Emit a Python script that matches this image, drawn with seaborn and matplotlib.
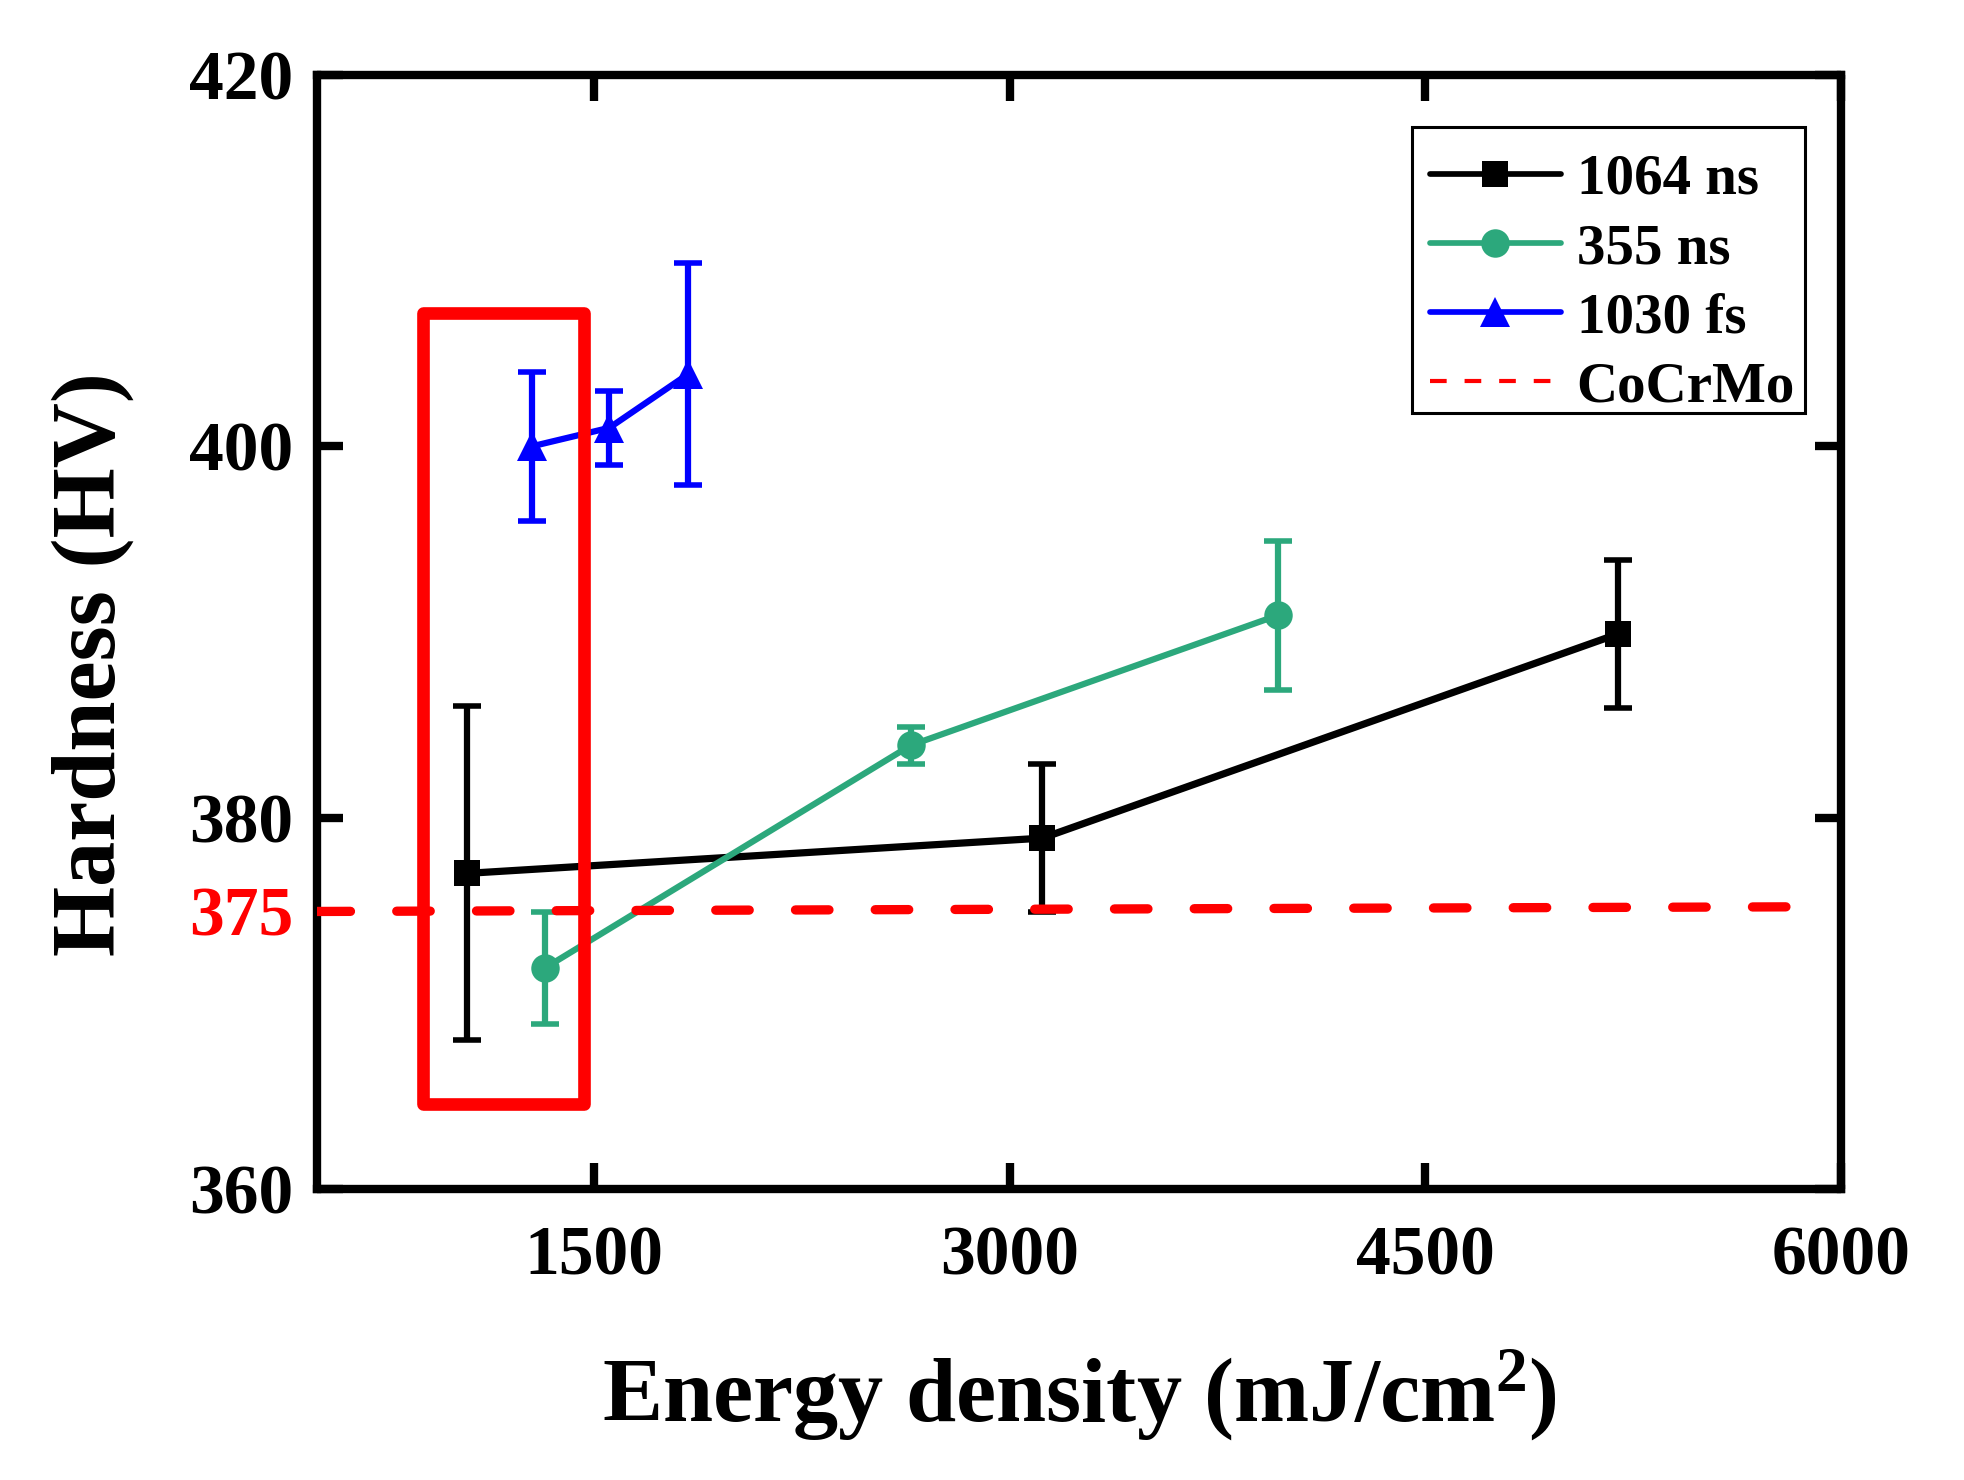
import numpy as np
import pandas as pd
import matplotlib
matplotlib.use('Agg')
import matplotlib.pyplot as plt
import seaborn as sns
from matplotlib.patches import Rectangle
from matplotlib.lines import Line2D

# ---------------- data ----------------
series_names = ['1064 ns', '355 ns', '1030 fs']
x_1064 = [1040, 3118, 5195]
y_1064 = [377.0, 378.9, 389.9]
e_1064 = [9.0, 4.0, 4.0]
x_355 = [1322, 2643, 3967]
y_355 = [371.9, 383.9, 390.9]
e_355 = [3.0, 1.0, 4.0]
x_1030 = [1275, 1555, 1840]
y_1030 = [400.0, 401.0, 403.9]
e_1030 = [4.0, 2.0, 6.0]
cocrmo_label = 'CoCrMo'
cocrmo_x = [500, 5840]
cocrmo_y = [374.95, 375.2]
x_ticks = [1500, 3000, 4500, 6000]
y_ticks = [360, 375, 380, 400, 420]
y_tick_labels = ['360', '375', '380', '400', '420']
highlight_x = [884, 1465]
highlight_y = [364.6, 407.2]

# ---------------- style ----------------
sns.set_style('ticks')
plt.rcParams['font.family'] = ['Liberation Serif', 'DejaVu Serif']
plt.rcParams['font.weight'] = 'bold'
plt.rcParams['text.color'] = 'black'
plt.rcParams['axes.labelcolor'] = 'black'
plt.rcParams['xtick.color'] = 'black'
plt.rcParams['ytick.color'] = 'black'
plt.rcParams['mathtext.fontset'] = 'custom'
plt.rcParams['mathtext.rm'] = 'Liberation Serif:bold'
plt.rcParams['mathtext.it'] = 'Liberation Serif:bold'
plt.rcParams['mathtext.bf'] = 'Liberation Serif:bold'

colors = {'1064 ns': '#000000', '355 ns': '#2ca87c', '1030 fs': '#0000ff'}
markers = {'1064 ns': 's', '355 ns': 'o', '1030 fs': '^'}
msizes = {'1064 ns': 19, '355 ns': 20.5, '1030 fs': 22}
lwidths = {'1064 ns': 5.2, '355 ns': 4.5, '1030 fs': 4.5}

frames = []
for name, xs, ys, es in [('1064 ns', x_1064, y_1064, e_1064),
                         ('355 ns', x_355, y_355, e_355),
                         ('1030 fs', x_1030, y_1030, e_1030)]:
    frames.append(pd.DataFrame({'x': xs, 'y': ys, 'err': es, 'series': name}))
df = pd.concat(frames, ignore_index=True)

fig = plt.figure(figsize=(19.64, 14.80), dpi=100)
ax = fig.add_axes([0.1614, 0.1966, 0.7760, 0.7527])

for name in series_names:
    sub = df[df['series'] == name]
    ax.errorbar(sub['x'], sub['y'], yerr=sub['err'], fmt='none',
                ecolor=colors[name], elinewidth=4.5, capsize=10, capthick=4.0,
                zorder=2)
    n_before = len(ax.lines)
    sns.lineplot(data=sub, x='x', y='y', ax=ax, color=colors[name],
                 marker=markers[name], markersize=msizes[name],
                 markeredgewidth=0, linewidth=lwidths[name], zorder=3,
                 legend=False, sort=False)
    for ln in ax.lines[n_before:]:
        ln.set_linewidth(lwidths[name])
        ln.set_markeredgewidth(0)
        ln.set_markersize(msizes[name])

ax.plot(cocrmo_x, cocrmo_y, color='#ff0000', lw=6.7,
        linestyle=(0, (3.6, 4.97)), dash_capstyle='round', zorder=4)

rect = Rectangle((highlight_x[0], highlight_y[0]),
                 highlight_x[1] - highlight_x[0], highlight_y[1] - highlight_y[0],
                 fill=False, edgecolor='#ff0000', linewidth=9.1,
                 joinstyle='round', zorder=5)
ax.add_patch(rect)

ax.set_xlim(500, 6000)
ax.set_ylim(360, 420)
ax.set_xticks(x_ticks)
ax.set_xticklabels([str(t) for t in x_ticks])
ax.set_yticks(y_ticks)
ax.set_yticklabels(y_tick_labels)

for s in ax.spines.values():
    s.set_linewidth(6)
    s.set_color('black')

ax.tick_params(axis='both', direction='in', length=19, width=6,
               top=True, right=True, labelsize=50, colors='black')
ax.tick_params(axis='y', pad=17)
ax.tick_params(axis='x', pad=26)

for tick in ax.yaxis.get_major_ticks():
    if abs(tick.get_loc() - 375) < 1e-6:
        tick.tick1line.set_visible(False)
        tick.tick2line.set_visible(False)
        tick.label1.set_color('#ff0000')

for lab in ax.get_xticklabels() + ax.get_yticklabels():
    lab.set_fontweight('bold')

ax.set_xlabel(r'Energy density (mJ/cm$^{2}$)', fontsize=65, fontweight='bold',
              labelpad=42, color='black')
ax.set_ylabel('Hardness (HV)', fontsize=65, fontweight='bold', color='black')
ax.yaxis.set_label_coords(-0.120, 0.471)

handles = [Line2D([], [], color=colors[n], marker=markers[n], markersize=msizes[n],
                  markeredgewidth=0, lw=4.1, solid_capstyle='round') for n in series_names]
handles.append(Line2D([], [], color='#ff0000', lw=3.0, linestyle=(0, (4.0, 4.3))))
leg = ax.legend(handles, series_names + [cocrmo_label],
                loc='upper right', bbox_to_anchor=(0.981, 0.9445),
                prop={'family': 'Liberation Serif', 'weight': 'bold', 'size': 41},
                frameon=False,
                handlelength=2.3, handletextpad=0.28, labelspacing=0.30,
                borderpad=0.30, borderaxespad=0.0)
for t in leg.get_texts():
    t.set_color('black')
leg.set_zorder(6)

# legend frame (drawn separately so the padding can be uneven, as in the original)
legend_frame = Rectangle((0.7189, 0.7207), 0.2001, 0.1938, transform=fig.transFigure,
                         fill=False, edgecolor='black', linewidth=2.2, zorder=7)
fig.patches.append(legend_frame)

fig.savefig('out.png', dpi=100)
